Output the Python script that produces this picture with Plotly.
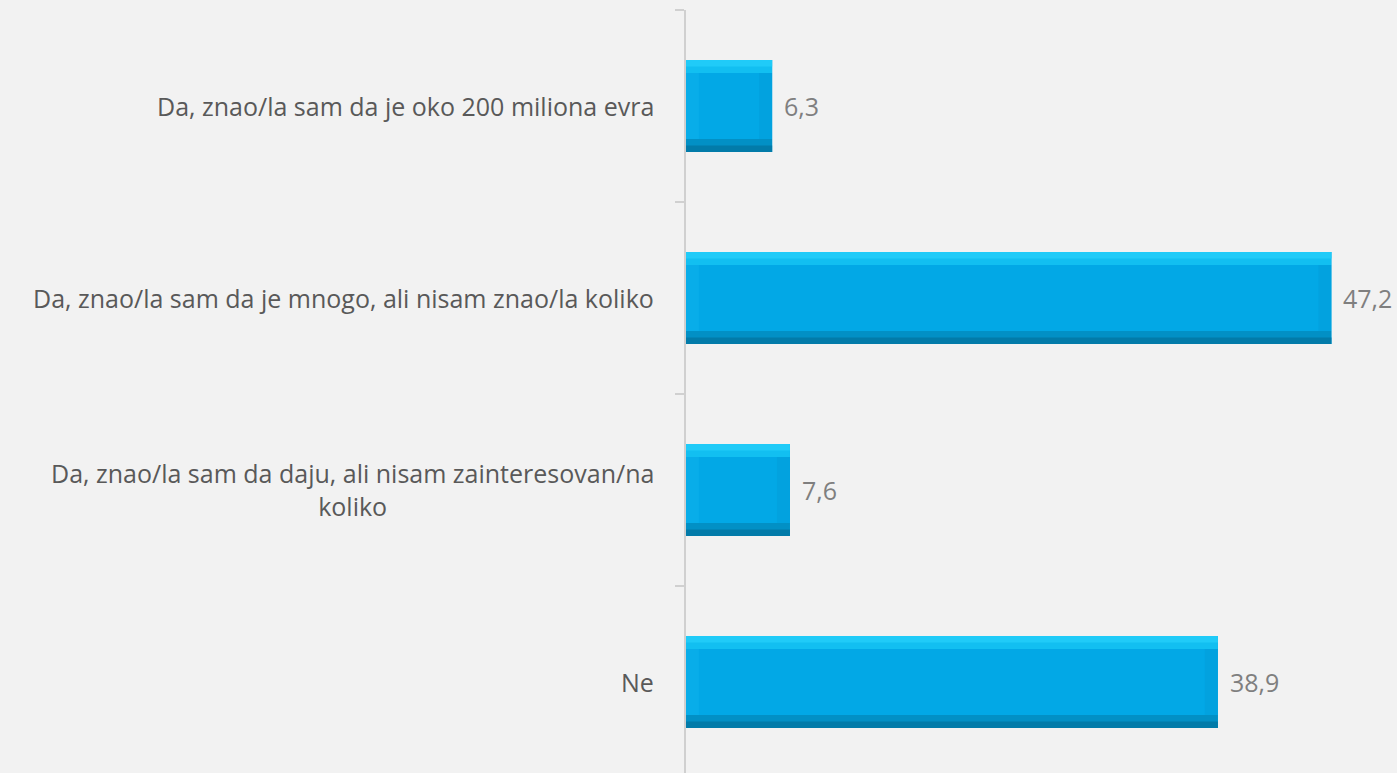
import plotly.graph_objects as go

categories = [
    "Da, znao/la sam da je oko 200 miliona evra",
    "Da, znao/la sam da je mnogo, ali nisam znao/la koliko",
    "Da, znao/la sam da daju, ali nisam zainteresovan/na<br>koliko",
    "Ne",
]
values = [6.3, 47.2, 7.6, 38.9]

positions = list(range(len(categories)))
BAR_W = 0.48
BEVEL_Y = 0.068
BEVEL_X = 0.95

fig = go.Figure()


def strip(x, base, width, offset, color):
    fig.add_trace(go.Bar(
        x=x, base=base, y=positions, orientation="h", width=width, offset=offset,
        marker=dict(color=color, line=dict(width=0)),
        hoverinfo="skip", showlegend=False,
    ))


zeros = [0] * len(values)
# main bar body
strip(values, zeros, BAR_W, -BAR_W / 2, "#02a8e6")
# left bevel
strip([BEVEL_X] * len(values), zeros, BAR_W - 2 * BEVEL_Y, -BAR_W / 2 + BEVEL_Y, "#08ade9")
# right bevel
strip([BEVEL_X] * len(values), [v - BEVEL_X for v in values],
      BAR_W - 2 * BEVEL_Y, -BAR_W / 2 + BEVEL_Y, "#02a2df")
# top highlight (two tones)
strip(values, zeros, BEVEL_Y, -BAR_W / 2, "#12bff1")
strip(values, zeros, BEVEL_Y / 2, -BAR_W / 2, "#20cbf8")
# bottom shadow (two tones)
strip(values, zeros, BEVEL_Y, BAR_W / 2 - BEVEL_Y, "#0290c5")
strip(values, zeros, BEVEL_Y / 2, BAR_W / 2 - BEVEL_Y / 2, "#027ba9")

annotations = []
for i, (cat, v) in enumerate(zip(categories, values)):
    annotations.append(dict(
        x=0, xref="paper", y=i, yref="y", text=cat, showarrow=False,
        xanchor="right", yanchor="middle", align="center", xshift=-30,
        font=dict(family="Open Sans, sans-serif", size=25, color="#595959"),
    ))
    annotations.append(dict(
        x=v, xref="x", y=i, yref="y", text=f"{v:.1f}".replace(".", ","),
        showarrow=False, xanchor="left", yanchor="middle", xshift=10,
        font=dict(family="Open Sans, sans-serif", size=25, color="#7f7f7f"),
    ))

fig.update_layout(
    width=1397, height=773,
    margin=dict(l=686, r=0, t=10, b=0),
    paper_bgcolor="#f2f2f2", plot_bgcolor="#f2f2f2",
    barmode="overlay",
    annotations=annotations,
    xaxis=dict(range=[0, 52], visible=False, showgrid=False, zeroline=False),
    yaxis=dict(
        range=[3.474, -0.5], showgrid=False, zeroline=False,
        showline=True, linecolor="#d0d0d0", linewidth=2,
        tickvals=[-0.5, 0.5, 1.5, 2.5], ticks="outside", ticklen=9,
        tickcolor="#d0d0d0", tickwidth=2, showticklabels=False,
    ),
)

fig.write_html(
    "out.html",
    config={"displayModeBar": False},
    post_script="document.body.style.margin='0';document.body.style.background='#f2f2f2';",
)
